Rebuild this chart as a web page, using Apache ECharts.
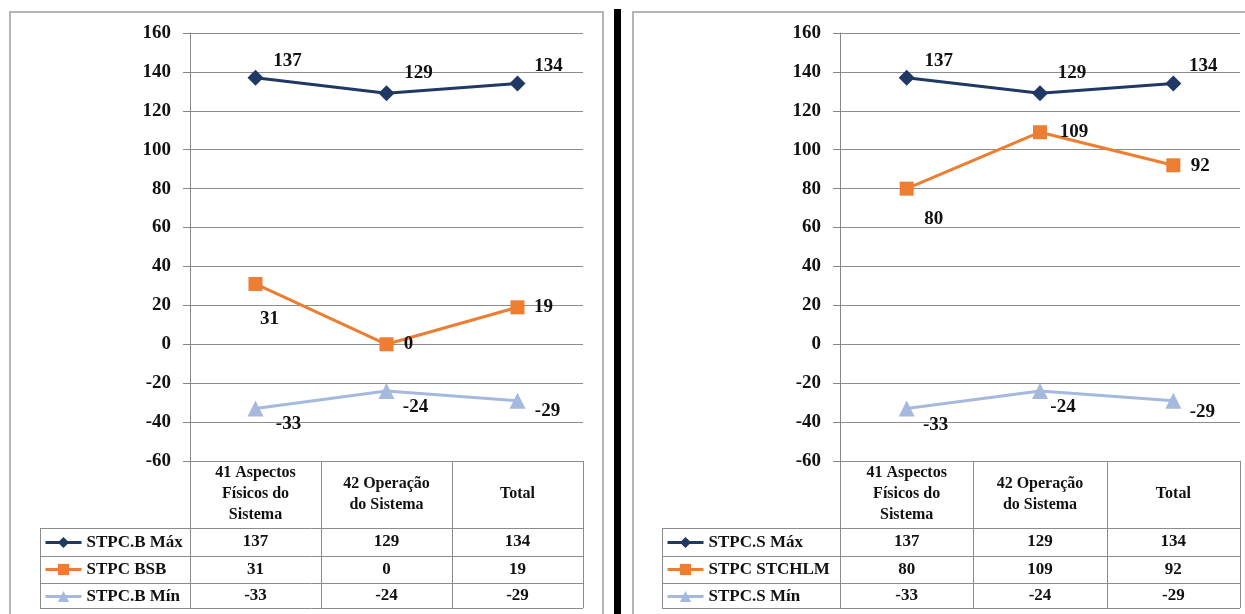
<!DOCTYPE html>
<html>
<head>
<meta charset="utf-8">
<script src="https://cdn.jsdelivr.net/npm/echarts@6/dist/echarts.min.js"></script>
<style>
  html, body { margin: 0; padding: 0; background: #fff; }
  #chart { width: 1245px; height: 614px; }
</style>
</head>
<body>
<div id="chart"></div>
<script>
// categories (table header)
const categories = ['41 Aspectos\nFísicos do\nSistema', '42 Operação\ndo Sistema', 'Total']

// left panel
const leftNames = ['STPC.B Máx', 'STPC BSB', 'STPC.B Mín']
const leftMax = [137, 129, 134]
const leftMid = [31, 0, 19]
const leftMin = [-33, -24, -29]

// right panel
const rightNames = ['STPC.S Máx', 'STPC STCHLM', 'STPC.S Mín']
const rightMax = [137, 129, 134]
const rightMid = [80, 109, 92]
const rightMin = [-33, -24, -29]

// value axis ticks
const yMin = -60
const yMax = 160
const yStep = 20

const FONT = 'Liberation Serif'
const colors = ['#1f3864', '#ed7d31', '#a5b8dd']
const symbols = ['diamond', 'rect', 'triangle']
const symbolSizes = [16, 14, 16]

// where each value label sits relative to its point (Excel placed them by hand)
const labelOffsets = [
  [[[32, -17], [32, -20], [31, -17]], [[14, 35], [22, 0], [26, 0]], [[33, 16], [29, 16], [30, 10]]],
  [[[32, -17], [32, -20], [30, -17]], [[27, 30], [34, 0], [27, 1]], [[29, 17], [23, 16], [29, 11]]]
]

const panels = [
  { names: leftNames, data: [leftMax, leftMid, leftMin], left: 190, width: 393, legendLeft: 40, box: [10, 12, 593] },
  { names: rightNames, data: [rightMax, rightMid, rightMin], left: 840, width: 400, legendLeft: 662, box: [633, 12, 640] }
]

const gridTop = 33
const gridHeight = 428
const headerH = 67
const rowH = [28, 27, 25]

const chart = echarts.init(document.getElementById('chart'))

const option = {
  backgroundColor: '#fff',
  animation: false,
  textStyle: { fontFamily: FONT },
  grid: panels.map(p => ({
    left: p.left,
    width: p.width,
    top: gridTop,
    height: gridHeight,
    containLabel: false
  })),
  xAxis: panels.map((p, i) => ({
    type: 'category',
    gridIndex: i,
    data: categories,
    boundaryGap: true,
    axisLine: { show: false, onZero: false },
    axisTick: { show: false },
    splitLine: { show: false },
    axisLabel: {
      interval: 0,
      margin: 33,
      verticalAlign: 'middle',
      lineHeight: 21,
      fontSize: 16,
      fontWeight: 'bold',
      fontFamily: FONT,
      color: '#111'
    }
  })),
  yAxis: panels.map((p, i) => ({
    type: 'value',
    gridIndex: i,
    min: yMin,
    max: yMax,
    interval: yStep,
    axisLine: { show: true, lineStyle: { color: '#868686', width: 1 } },
    axisTick: { show: true, length: 7, lineStyle: { color: '#868686' } },
    splitLine: { show: true, lineStyle: { color: '#8c8c8c', width: 1 } },
    axisLabel: {
      margin: 19,
      fontSize: 19,
      fontWeight: 'bold',
      fontFamily: FONT,
      color: '#111'
    }
  })),
  legend: panels.map((p, i) => ({
    orient: 'vertical',
    left: p.legendLeft + 4,
    top: gridTop + gridHeight + headerH + 6,
    padding: 0,
    itemWidth: 36,
    itemHeight: 14,
    itemGap: 10,
    selectedMode: false,
    data: p.names,
    lineStyle: { width: 3 },
    textStyle: {
      fontSize: 17,
      lineHeight: 17,
      fontWeight: 'bold',
      fontFamily: FONT,
      color: '#111'
    }
  })),
  series: []
}

panels.forEach((p, pi) => {
  p.data.forEach((values, si) => {
    option.series.push({
      name: p.names[si],
      type: 'line',
      xAxisIndex: pi,
      yAxisIndex: pi,
      symbol: symbols[si],
      symbolSize: symbolSizes[si],
      lineStyle: { color: colors[si], width: 3 },
      itemStyle: { color: colors[si] },
      label: {
        show: true,
        position: 'inside',
        align: 'center',
        verticalAlign: 'middle',
        fontSize: 19,
        fontWeight: 'bold',
        fontFamily: FONT,
        color: '#111',
        textBorderWidth: 0
      },
      data: values.map((v, k) => ({
        value: v,
        label: { offset: labelOffsets[pi][si][k] }
      }))
    })
  })
})

chart.setOption(option)

// table, panel frames and divider drawn after the axes are laid out
const graphic = []
const lineColor = '#8c8c8c'
const hline = (x1, x2, y) => graphic.push({
  type: 'line', silent: true,
  shape: { x1: x1, y1: Math.round(y) + 0.5, x2: x2, y2: Math.round(y) + 0.5 },
  style: { stroke: lineColor, lineWidth: 1 }
})
const vline = (x, y1, y2) => graphic.push({
  type: 'line', silent: true,
  shape: { x1: Math.round(x) + 0.5, y1: y1, x2: Math.round(x) + 0.5, y2: y2 },
  style: { stroke: lineColor, lineWidth: 1 }
})

panels.forEach((p, pi) => {
  // panel frame
  graphic.push({
    type: 'rect', silent: true,
    shape: { x: p.box[0], y: p.box[1], width: p.box[2], height: 700 },
    style: { fill: null, stroke: '#b4b4b4', lineWidth: 2 }
  })

  const top = chart.convertToPixel({ yAxisIndex: pi }, yMin)
  const xl = p.left
  const xr = p.left + p.width
  const step = p.width / categories.length
  const rowsY = [top + headerH]
  rowH.forEach(h => rowsY.push(rowsY[rowsY.length - 1] + h))

  hline(xl, xr, top)
  rowsY.forEach(y => hline(p.legendLeft, xr, y))
  vline(p.legendLeft, rowsY[0], rowsY[rowsY.length - 1])
  for (let c = 0; c <= categories.length; c++) {
    vline(xl + c * step, top, rowsY[rowsY.length - 1])
  }

  p.data.forEach((values, si) => {
    values.forEach((v, k) => {
      const cx = chart.convertToPixel({ xAxisIndex: pi }, k)
      graphic.push({
        type: 'text', silent: true,
        x: cx,
        y: (rowsY[si] + rowsY[si + 1]) / 2,
        style: {
          text: String(v),
          align: 'center',
          verticalAlign: 'middle',
          font: 'bold 17px "' + FONT + '"',
          fill: '#111'
        }
      })
    })
  })
})

// black divider between the two charts
graphic.push({
  type: 'rect', silent: true,
  shape: { x: 614, y: 9, width: 7, height: 620 },
  style: { fill: '#000' }
})

chart.setOption({ graphic: graphic })
</script>
</body>
</html>
